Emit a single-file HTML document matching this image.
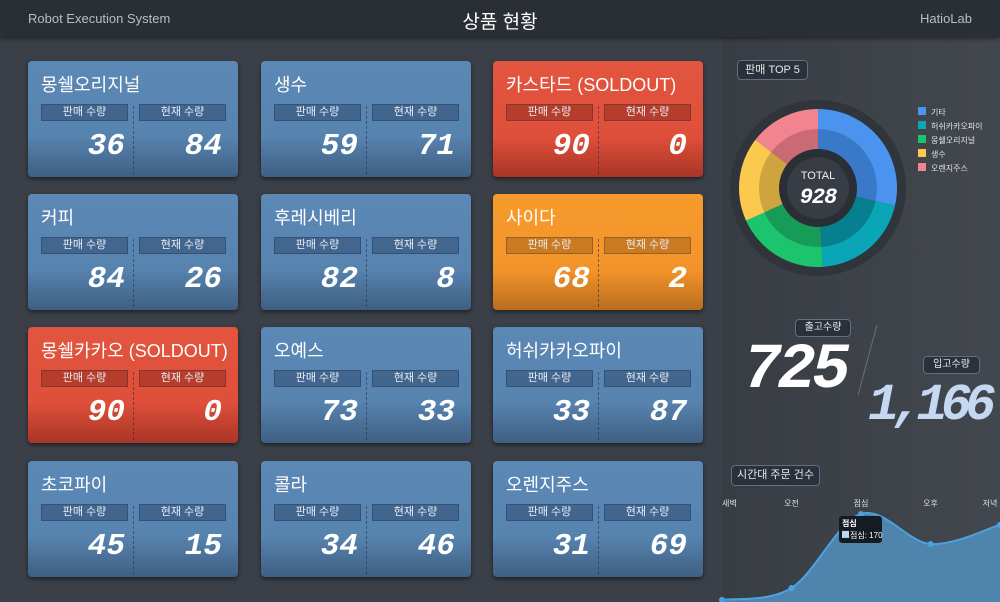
<!DOCTYPE html>
<html><head><meta charset="utf-8">
<style>
*{margin:0;padding:0;box-sizing:border-box}
body{width:1000px;height:602px;overflow:hidden;background:#3b3f47;font-family:"Liberation Sans","Noto Sans CJK KR",sans-serif;position:relative;color:#fff}
.hdr{position:absolute;left:0;top:0;width:1000px;height:37px;background:#2a2e35;box-shadow:0 2px 4px rgba(0,0,0,.4);z-index:5}
.hdr .l{position:absolute;left:28px;top:11px;font-size:13px;color:#b8bec8}
.hdr .c{position:absolute;left:0;width:1000px;text-align:center;top:7px;font-size:19px;color:#fff}
.hdr .r{position:absolute;right:28px;top:11px;font-size:13px;color:#b8bec8}
.card{position:absolute;width:210px;height:116px;border-radius:4px;background:linear-gradient(#5b88b5 0%,#5783af 65%,#3e5f82 100%);box-shadow:0 2px 4px rgba(0,0,0,.5)}
.card.red{background:linear-gradient(#e2553f 0%,#df4f3a 65%,#a93526 100%)}
.card.org{background:linear-gradient(#f79b2c 0%,#f3942a 65%,#b96d1e 100%)}
.card .t{position:absolute;left:13px;top:10px;font-size:18px;white-space:nowrap}
.card .lb{position:absolute;top:43px;width:87px;height:17px;background:rgba(40,65,100,.45);border:1px solid rgba(20,40,70,.3);font-size:11px;text-align:center;line-height:15px;color:#e8eef6}
.card.red .lb{background:rgba(120,30,20,.4)}
.card.org .lb{background:rgba(140,80,20,.4)}
.card .dv{position:absolute;left:105px;top:45px;height:68px;border-left:1px dashed rgba(30,50,80,.6)}
.card .n{position:absolute;top:68px;font-family:"Liberation Mono",monospace;font-weight:bold;font-style:italic;font-size:31px;letter-spacing:0px;text-align:right;width:80px}
.rp{position:absolute;left:722px;top:37px;width:278px;height:565px;background:linear-gradient(90deg,#383c43,#43474e)}
.box{position:absolute;border:1px solid #5f6f85;border-radius:4px;background:#2c3038;font-size:11px;text-align:center;color:#e6eaf0}
.dig{position:absolute;font-family:"Liberation Mono",monospace;font-weight:bold;font-style:italic;white-space:nowrap}
</style></head><body>
<div class="hdr">
<div class="l">Robot Execution System</div>
<div class="c">상품 현황</div>
<div class="r">HatioLab</div>
</div>
<div id="cards"></div>
<div class="rp"></div>
<div class="box" style="left:737px;top:60px;width:71px;height:20px;line-height:18px">판매 TOP 5</div>
<svg id="donut" style="position:absolute;left:0;top:0" width="1000" height="602"></svg>
<div class="box" style="left:795px;top:319px;width:56px;height:18px;line-height:16px;font-size:10px">출고수량</div>
<div class="dig" style="left:743px;top:335px;font-size:64px;color:#fff;letter-spacing:-4px">725</div>
<svg style="position:absolute;left:850px;top:320px" width="40" height="80"><line x1="27" y1="5" x2="8" y2="75" stroke="#6a707a" stroke-width="1"/></svg>
<div class="box" style="left:923px;top:356px;width:57px;height:18px;line-height:16px;font-size:10px">입고수량</div>
<div class="dig" style="left:868px;top:376px;font-size:52px;color:#c5d8f2;letter-spacing:-7px">1,166</div>
<div class="box" style="left:731px;top:465px;width:89px;height:21px;line-height:19px">시간대 주문 건수</div>
<svg id="line" style="position:absolute;left:0;top:0" width="1000" height="602"></svg>
<script>
const cardNames=['몽쉘오리지널','생수','카스타드 (SOLDOUT)','커피','후레시베리','사이다','몽쉘카카오 (SOLDOUT)','오예스','허쉬카카오파이','초코파이','콜라','오렌지주스'];
const soldValues=[36,59,90,84,82,68,90,73,33,45,34,31];
const stockValues=[84,71,0,26,8,2,0,33,87,15,46,69];
const cardKinds=['','','red','','','org','red','','','','',''];
const colX=[28,261,493],rowY=[61,194,327,461];
const cc=document.getElementById('cards');
cardNames.forEach((nm,i)=>{
 const d=document.createElement('div');
 d.className='card '+cardKinds[i];
 d.style.left=colX[i%3]+'px';d.style.top=rowY[Math.floor(i/3)]+'px';
 
 
 d.innerHTML='<div class="t">'+nm+'</div>'+
 '<div class="lb" style="left:13px">판매 수량</div>'+
 '<div class="lb" style="left:111px">현재 수량</div>'+
 '<div class="dv"></div>'+
 '<div class="n" style="left:17px">'+soldValues[i]+'</div>'+
 '<div class="n" style="left:114px">'+stockValues[i]+'</div>';
 cc.appendChild(d);
});
const NS='http://www.w3.org/2000/svg';
function mk(p,t,a){const e=document.createElementNS(NS,t);for(const k in a)e.setAttribute(k,a[k]);p.appendChild(e);return e;}
const sliceLabels=['기타','허쉬카카오파이','몽쉘오리지널','생수','오렌지주스'];
const sliceValues=[265,190,178,160,135];
const sliceColors=['#4a94f0','#0aa6b8','#1dc46e','#fcc94f','#f2848f'];
const sliceDark=['#3a78c8','#06808e','#179c58','#cea43f','#c96a74'];
const ds=document.getElementById('donut');
const cx=818,cy=188;
mk(ds,'circle',{cx:cx,cy:cy,r:88,fill:'#30343b'});
const tot=sliceValues.reduce((a,b)=>a+b,0);
function arc(r0,r1,a0,a1){const p=(r,a)=>[cx+r*Math.sin(a),cy-r*Math.cos(a)];const l=(a1-a0)>Math.PI?1:0;
 const A=p(r1,a0),B=p(r1,a1),C=p(r0,a1),D=p(r0,a0);
 return `M${A}A${r1},${r1} 0 ${l} 1 ${B}L${C}A${r0},${r0} 0 ${l} 0 ${D}Z`;}
let acc=0;
sliceValues.forEach((v,i)=>{const a0=acc/tot*2*Math.PI;acc+=v;const a1=acc/tot*2*Math.PI;
 const s1=mk(ds,'path',{d:arc(58,79,a0,a1),fill:sliceColors[i]});
 
 
 const s2=mk(ds,'path',{d:arc(38,59,a0,a1),fill:sliceDark[i]});
 
 
 const lg=mk(ds,'rect',{x:918,y:107+i*14,width:8,height:8,fill:sliceColors[i]});
 
 
 const lt=mk(ds,'text',{x:931,y:115+i*14,'font-size':8,fill:'#e0e4ea'});lt.textContent=sliceLabels[i];
 
 
});
mk(ds,'circle',{cx:cx,cy:cy,r:39,fill:'#2a2e35'});
mk(ds,'circle',{cx:cx,cy:cy,r:31,fill:'#383c44'});
const tt=mk(ds,'text',{x:cx,y:cy-9,'text-anchor':'middle','font-size':11,fill:'#eee'});tt.textContent='TOTAL';


const tv=mk(ds,'text',{x:cx,y:cy+15,'text-anchor':'middle','font-size':22,'font-weight':'bold','font-style':'italic','font-family':'Liberation Mono','letter-spacing':-1,fill:'#fff'});tv.textContent=tot;


const periods=['새벽','오전','점심','오후','저녁'];
const orderCounts=[4,27,170,112,149];
const ls=document.getElementById('line');
const X=i=>722+i*69.5, Y=v=>602-v*0.518;
const pts=orderCounts.map((v,i)=>[X(i),Y(v)]);
function curve(p){let d=`M${p[0]}`;for(let i=0;i<p.length-1;i++){const p0=p[i-1]||p[i],p1=p[i],p2=p[i+1],p3=p[i+2]||p2;
 d+=`C${p1[0]+(p2[0]-p0[0])/6},${p1[1]+(p2[1]-p0[1])/6} ${p2[0]-(p3[0]-p1[0])/6},${p2[1]-(p3[1]-p1[1])/6} ${p2[0]},${p2[1]}`;}return d;}
const cd=curve(pts);
const ar=mk(ls,'path',{d:cd+`L${pts[4][0]},602L${pts[0][0]},602Z`,fill:'#4f84ad'});


const ln=mk(ls,'path',{d:cd,fill:'none',stroke:'#4aa3e0','stroke-width':2});


pts.forEach((p,i)=>{const c=mk(ls,'circle',{cx:p[0],cy:p[1],r:3,fill:'#4aa3e0'});
 
 
 const t=mk(ls,'text',{x:Math.min(p[0],990),y:506,'text-anchor':i==0?'start':'middle','font-size':8,fill:'#e0e4ea'});t.textContent=periods[i];
 
 
});
const tipX=X(2)-22,tipY=Y(orderCounts[2])+2;
const tg=mk(ls,'g',{});


mk(tg,'rect',{x:tipX,y:tipY,width:43,height:27,rx:3,fill:'#141b22'});
const t1=mk(tg,'text',{x:tipX+3,y:tipY+10,'font-size':8,'font-weight':'bold',fill:'#fff'});t1.textContent=periods[2];
mk(tg,'rect',{x:tipX+3,y:tipY+15,width:7,height:7,fill:'#bcd8f0'});
const t2=mk(tg,'text',{x:tipX+11,y:tipY+22,'font-size':8,fill:'#fff'});t2.textContent=periods[2]+': '+orderCounts[2];
</script>
</body></html>
